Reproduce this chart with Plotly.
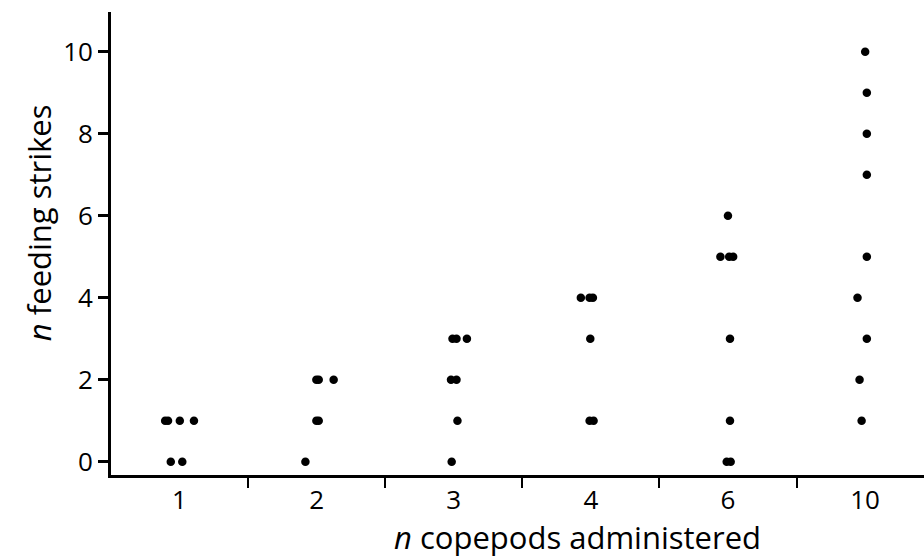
import plotly.graph_objects as go

# Copepod dose groups (categorical x axis)
categories = ["1", "2", "3", "4", "6", "10"]

# Feeding strikes observed per fish, one list per dose group
strikes_1 = [0, 0, 1, 1, 1, 1]
strikes_2 = [0, 1, 1, 2, 2, 2]
strikes_3 = [0, 1, 2, 2, 3, 3, 3]
strikes_4 = [1, 1, 3, 4, 4, 4]
strikes_6 = [0, 0, 1, 3, 5, 5, 5, 6]
strikes_10 = [1, 2, 3, 4, 5, 7, 8, 9, 10]

# Horizontal jitter (in category widths) so overlapping fish stay visible
jitter_1 = [-0.064, 0.020, -0.105, -0.084, 0.002, 0.105]
jitter_2 = [-0.082, -0.002, 0.015, -0.002, 0.015, 0.124]
jitter_3 = [-0.015, 0.027, -0.020, 0.020, -0.009, 0.020, 0.096]
jitter_4 = [-0.009, 0.020, -0.004, -0.073, -0.009, 0.015]
jitter_6 = [-0.009, 0.020, 0.015, 0.015, -0.055, 0.009, 0.038, 0.0]
jitter_10 = [-0.025, -0.040, 0.013, -0.055, 0.013, 0.013, 0.013, 0.013, 0.001]

y_ticks = [0, 2, 4, 6, 8, 10]

groups = [strikes_1, strikes_2, strikes_3, strikes_4, strikes_6, strikes_10]
jitters = [jitter_1, jitter_2, jitter_3, jitter_4, jitter_6, jitter_10]

xs, ys = [], []
for i, (vals, jit) in enumerate(zip(groups, jitters)):
    for v, j in zip(vals, jit):
        xs.append(i + j)
        ys.append(v)

FONT = "Open Sans"
LW = 2.7

fig = go.Figure()
fig.add_trace(go.Scatter(
    x=xs, y=ys, mode="markers",
    marker=dict(size=8.5, color="black", line=dict(width=0)),
    showlegend=False, hoverinfo="skip",
))

boundaries = [i + 0.5 for i in range(len(categories) - 1)]

fig.update_layout(
    width=924, height=557,
    margin=dict(l=111, r=0, t=12, b=82),
    paper_bgcolor="white", plot_bgcolor="white",
    font=dict(family=FONT, color="black"),
    xaxis=dict(
        range=[-0.5, 5.43],
        tickvals=list(range(len(categories))), ticktext=categories,
        ticks="", tickfont=dict(size=26, family=FONT, color="black"),
        showline=True, linewidth=LW, linecolor="black",
        showgrid=False, zeroline=False,
        minor=dict(tickvals=boundaries, ticks="outside", ticklen=10,
                   tickwidth=2, tickcolor="black", showgrid=False),
    ),
    yaxis=dict(
        range=[-0.324, 10.97],
        tickvals=y_ticks, ticks="outside", ticklen=10, tickwidth=LW,
        tickcolor="black", tickfont=dict(size=26, family=FONT, color="black"),
        showline=True, linewidth=LW, linecolor="black",
        showgrid=False, zeroline=False,
    ),
    annotations=[
        dict(text="<i>n</i> copepods administered", xref="paper", yref="paper",
             x=0.574, y=0, xanchor="center", yanchor="top", yshift=-39,
             showarrow=False, font=dict(size=31, family=FONT, color="black")),
        dict(text="<i>n</i> feeding strikes", xref="paper", yref="paper",
             x=0, y=0.544, xanchor="center", yanchor="middle", xshift=-72,
             textangle=-90, showarrow=False,
             font=dict(size=31, family=FONT, color="black")),
    ],
)

fig.write_html("out.html")
